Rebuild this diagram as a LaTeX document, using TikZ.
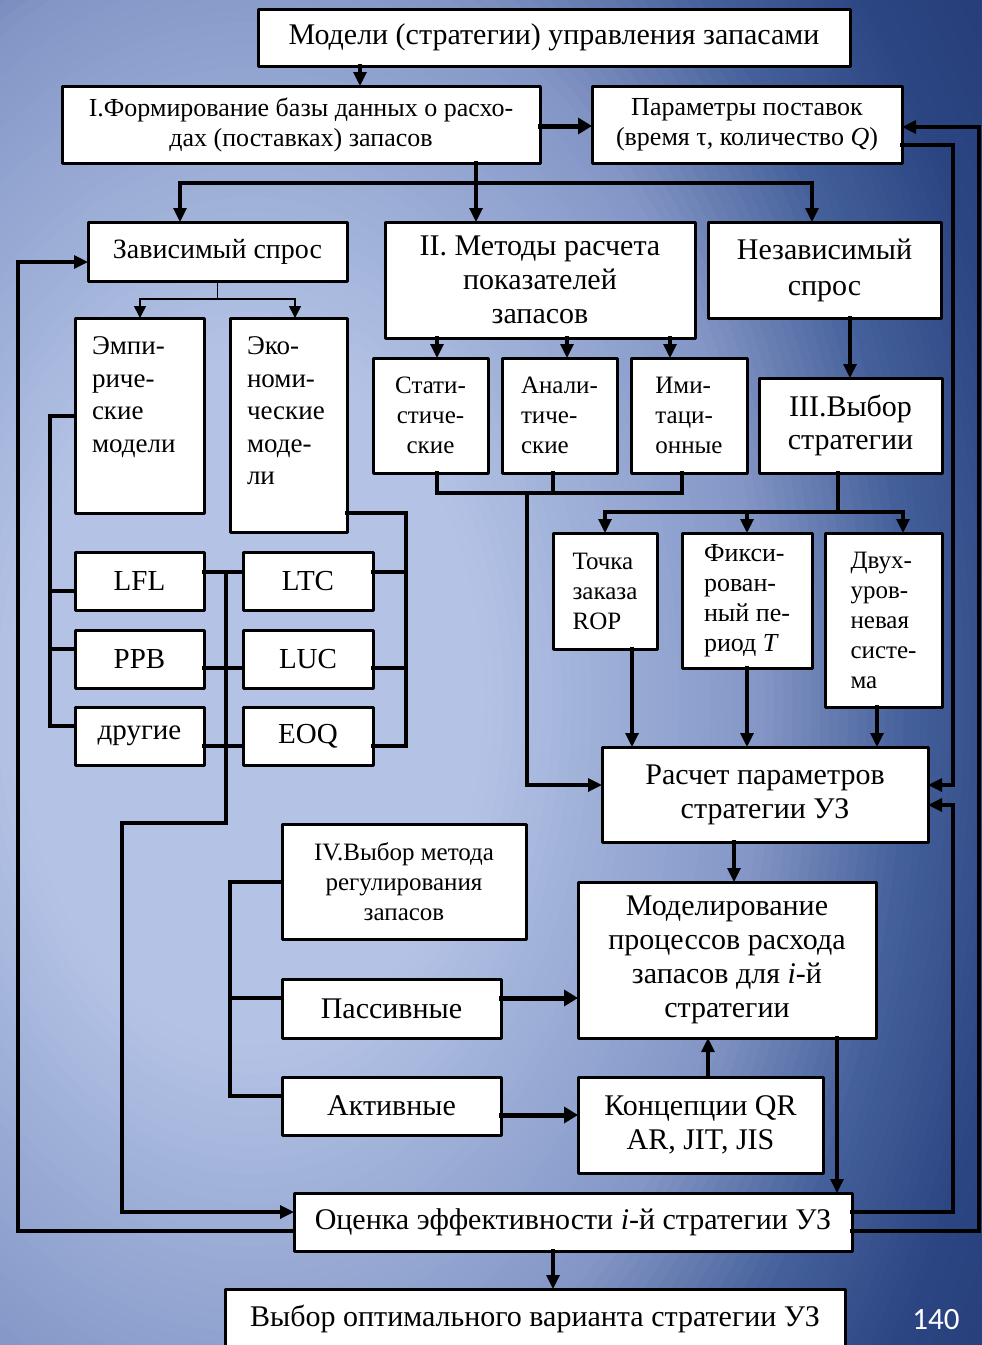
\documentclass[tikz,border=0pt]{standalone}
\usepackage{fontspec}
\setmainfont{Liberation Serif}
\newfontfamily\numfont{Carlito}
\usetikzlibrary{arrows.meta}

% slide background colours, from the light centre outwards
\definecolor{bgLight}{RGB}{180,195,229}
\definecolor{bgSoft}{RGB}{152,170,212}
\definecolor{bgMid}{RGB}{132,150,198}
\definecolor{bgDark}{RGB}{68,96,154}
\definecolor{bgDeep}{RGB}{44,70,131}
\definecolor{bgDeepest}{RGB}{30,53,112}

% box from its top-left (x1,y1) to bottom-right (x2,y2) corner
\newcommand\bx[7]{\node[box,#6,minimum width={(#4-#2)*1pt},minimum height={(#5-#3)*1pt}] (#1) at (#2,#3) {#7};}

\begin{document}
\begin{tikzpicture}[x=1pt,y=-1pt,
  box/.style={draw, fill=white, line width=3pt, line join=round, inner sep=0pt,
              outer sep=0pt, align=center, anchor=north west},
  txt/.style={inner sep=0pt, outer sep=0pt, align=left, anchor=north west},
  fs25/.style={font={\fontsize{25}{30}\selectfont}},
  fs26/.style={font={\fontsize{26}{30}\selectfont}},
  fs27/.style={font={\fontsize{27}{32.5}\selectfont}},
  fs28/.style={font={\fontsize{28}{32}\selectfont}},
  fs29/.style={font={\fontsize{29}{33}\selectfont}},
  fs30/.style={font={\fontsize{30}{34}\selectfont}},
  fsN/.style={font={\fontsize{30}{36}\selectfont}},
  conn/.style={line width=3.2pt, line cap=rect, line join=miter},
  arr/.style={conn, -{Triangle[length=14pt,width=13pt]}},
  heavyarr/.style={line width=5pt, line cap=rect, -{Triangle[length=14pt,width=16pt]}},
  thinline/.style={line width=1.6pt},
  thinarr/.style={thinline, -{Triangle[length=12pt,width=12pt]}},
]
\useasboundingbox (0,0) rectangle (982,1345);
\clip (0,0) rectangle (982,1345);

% ---- background: elliptic gradient, light at the left, dark to the right ----
\fill[bgDeepest] (0,0) rectangle (982,1345);
\foreach \cout/\cin/\dout/\din in {bgDeepest/bgDeep/1.3/1.0, bgDeep/bgDark/1.0/0.85,
    bgDark/bgMid/0.85/0.66, bgMid/bgSoft/0.66/0.5, bgSoft/bgLight/0.5/0.3}{
  \foreach \i in {0,...,15}{
    \pgfmathsetmacro\dd{\dout-(\dout-\din)*\i/16}
    \pgfmathsetmacro\pp{100*\i/16}
    \fill[fill=\cin!\pp!\cout] (250,700) ellipse [x radius={780*\dd}, y radius={1150*\dd}];
  }
}
\fill[bgLight] (250,700) ellipse [x radius=234, y radius=345];

% ---- boxes ----
\bx{T}{258}{9}{850}{66}{fs30}{Модели (стратегии) управления запасами}
\bx{I}{62}{86}{540}{163}{fs26}{I.Формирование базы данных о расхо-\\дах (поставках) запасов}
\bx{P}{592}{86}{902}{163}{fs26}{Параметры поставок\\(время τ, количество \textit{Q})}
\bx{Z}{88}{222}{347}{281}{fs28}{Зависимый спрос}
\bx{II}{385}{222}{695}{338}{fs30}{II. Методы расчета\\показателей\\запасов}
\bx{N}{708}{222}{941}{318}{fsN}{Независимый\\спрос}
\bx{Emp}{75}{318}{204}{513}{}{}
\bx{Eko}{230}{318}{347}{532}{}{}
\bx{LFL}{75}{552}{204}{610}{fs29}{LFL}
\bx{PPB}{75}{630}{204}{688}{fs29}{PPB}
\bx{Dr}{75}{707}{204}{765}{fs29}{другие}
\bx{LTC}{243}{552}{373}{610}{fs29}{LTC}
\bx{LUC}{243}{630}{373}{688}{fs29}{LUC}
\bx{EOQ}{243}{707}{373}{765}{fs29}{EOQ}
\bx{Stat}{373}{358}{488}{473}{fs25}{Стати-\\стиче-\\ские}
\bx{Anal}{502}{358}{617}{473}{fs25,align=left}{Анали-\\тиче-\\ские}
\bx{Imit}{631}{358}{747}{473}{fs25,align=left}{Ими-\\таци-\\онные}
\bx{III}{759}{378}{942}{473}{font={\fontsize{30}{33}\selectfont}}{III.Выбор\\стратегии}
\bx{Toch}{553}{533}{657}{649}{fs25,align=left}{Точка\\заказа\\ROP}
\bx{Fiks}{682}{533}{812}{668}{fs26,align=left}{Фикси-\\рован-\\ный пе-\\риод \textit{T}}
\bx{Dvuh}{825}{533}{942}{707}{fs25,align=left}{Двух-\\уров-\\невая\\систе-\\ма}
\bx{Rasch}{602}{747}{928}{842}{fs30}{Расчет параметров\\стратегии УЗ}
\bx{IV}{282}{824}{526}{939}{fs25}{IV.Выбор метода\\регулирования\\запасов}
\bx{Mod}{578}{882}{876}{1038}{fs30}{Моделирование\\процессов расхода\\запасов для \textit{i}-й\\стратегии}
\bx{Pas}{282}{979}{501}{1038}{fs30}{Пассивные}
\bx{Akt}{282}{1077}{501}{1135}{fs30}{Активные}
\bx{Konc}{578}{1077}{823}{1173}{fs30}{Концепции QR\\AR, JIT, JIS}
\bx{Ots}{294}{1193}{852}{1251}{fs30}{Оценка эффективности \textit{i}-й стратегии УЗ}
\bx{Vyb}{225}{1289}{845}{1348}{fs30}{Выбор оптимального варианта стратегии УЗ}

% top-aligned texts of the two tall model boxes
\node[txt,fs27] (EmpText) at ([xshift=17pt,yshift=-19pt]Emp.north west) {Эмпи-\\риче-\\ские\\модели};
\node[txt,fs27] (EkoText) at ([xshift=17pt,yshift=-19pt]Eko.north west) {Эко-\\номи-\\ческие\\моде-\\ли};

% ---- junctions ----
\coordinate (jI) at (476,183);
\coordinate (jZ) at (Z.south |- 0,299);
\coordinate (jM) at (527,493);
\coordinate (jS) at (838,512);
\coordinate (jE) at (226,572);

% ---- connectors: upper part ----
\draw[arr] (T.south -| 360,0) -- (I.north -| 360,0);
\draw[heavyarr] (I.east |- 0,126) -- (P.west |- 0,126);
\draw[arr] (I.south -| jI) -- (II.north -| jI);
\draw[arr] (jI) -| (Z.north -| 180,0);
\draw[arr] (jI) -| (N.north -| 812,0);

\draw[thinline] (Z.south) -- (jZ);
\draw[thinarr] (jZ) -| (Emp.north -| 140,0);
\draw[thinarr] (jZ) -| (Eko.north -| 295,0);

% methods of calculation
\draw[arr] (II.south -| 437,0) -- (Stat.north -| 437,0);
\draw[arr] (II.south -| 567,0) -- (Anal.north -| 567,0);
\draw[arr] (II.south -| 670,0) -- (Imit.north -| 670,0);
\draw[conn] (Stat.south -| 437,0) -- (437,493) -- (682,493) -- (Imit.south -| 682,0);
\draw[conn] (Anal.south -| 553,0) -- (553,493);
\draw[arr] (jM) |- (Rasch.west |- 0,785);

% strategy choice
\draw[arr] (N.south -| 850,0) -- (III.north -| 850,0);
\draw[conn] (III.south -| jS) -- (jS);
\draw[arr] (jS) -| (Toch.north);
\draw[arr] (jS) -| (Dvuh.north -| 903,0);
\draw[arr] (jS -| Fiks.north) -- (Fiks.north);
\draw[arr] (Toch.south -| 632,0) -- (Rasch.north -| 632,0);
\draw[arr] (Fiks.south) -- (Rasch.north -| Fiks.south);
\draw[arr] (Dvuh.south -| 877,0) -- (Rasch.north -| 877,0);

% dependent demand models
\draw[conn] (Emp.west |- 0,416) -| (50,726) -- (Dr.west |- 0,726);
\draw[conn] (50,591) -- (LFL.west |- 0,591);
\draw[conn] (50,649) -- (PPB.west |- 0,649);
\draw[conn] (Eko.east |- 0,513) -| (406,746) -- (EOQ.east |- 0,746);
\draw[conn] (406,572) -- (LTC.east |- 0,572);
\draw[conn] (406,668) -- (LUC.east |- 0,668);
\draw[conn] (LFL.east |- 0,572) -- (LTC.west |- 0,572);
\draw[conn] (PPB.east |- 0,668) -- (LUC.west |- 0,668);
\draw[conn] (Dr.east |- 0,746) -- (EOQ.west |- 0,746);
\draw[arr] (jE) -- (226,823) -| (122,1212) -- (Ots.west |- 0,1212);

% ---- connectors: lower part ----
\draw[arr] (Rasch.south -| 734,0) -- (Mod.north -| 734,0);
\draw[conn] (IV.west |- 0,882) -| (230,1096) -- (Akt.west |- 0,1096);
\draw[conn] (230,998) -- (Pas.west |- 0,998);
\draw[heavyarr] (Pas.east |- 0,998) -- (Mod.west |- 0,998);
\draw[heavyarr] (Akt.east |- 0,1115) -- (Konc.west |- 0,1115);
\draw[arr] (Konc.north -| 708,0) -- (Mod.south -| 708,0);
\draw[arr] (Mod.south -| 837,0) -- (Ots.north -| 837,0);
\draw[arr] (Ots.south -| 553,0) -- (Vyb.north -| 553,0);

% feedback loops
\draw[arr] (Ots.west |- 0,1231) -| (18,262) -- (Z.west |- 0,262);
\draw[arr] (P.east |- 0,145) -| (953,785) -- (Rasch.east |- 0,785);
\draw[arr] (Ots.east |- 0,1212) -| (953,805) -- (Rasch.east |- 0,805);
\draw[arr] (Ots.east |- 0,1231) -| (979,127) -- (P.east |- 0,127);

% slide number
\node[text=white, font={\numfont\fontsize{31}{31}\selectfont}] (pageno) at (936,1320) {140};
\end{tikzpicture}
\end{document}
